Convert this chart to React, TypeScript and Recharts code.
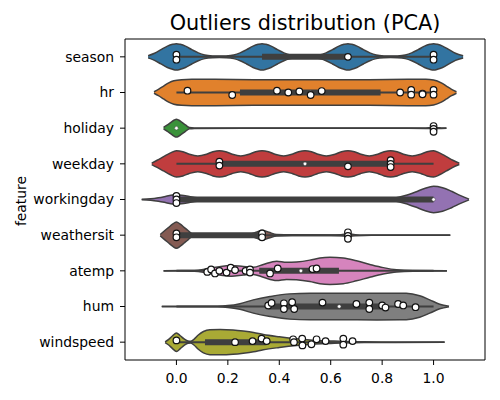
import {
  ComposedChart,
  Area,
  Line,
  Scatter,
  XAxis,
  YAxis,
  ReferenceArea,
} from "recharts";

const features = [
  "season",
  "hr",
  "holiday",
  "weekday",
  "workingday",
  "weathersit",
  "atemp",
  "hum",
  "windspeed",
];

const colors = [
  "#3274a1",
  "#e1812c",
  "#3a923a",
  "#c03d3e",
  "#9372b2",
  "#845b53",
  "#d684bd",
  "#7f7f7f",
  "#a9aa35",
];

const xTicks = [0, 0.2, 0.4, 0.6, 0.8, 1.0];

// violin outlines: [value, half width]
const seasonShape = [
  [-0.11, 0.03], [-0.085, 0.1], [-0.06, 0.2], [-0.035, 0.3], [-0.015, 0.35], [0, 0.37],
  [0.015, 0.35], [0.035, 0.3], [0.06, 0.2], [0.085, 0.11], [0.11, 0.05], [0.14, 0.025],
  [0.167, 0.02], [0.193, 0.025], [0.223, 0.05], [0.248, 0.11], [0.273, 0.2], [0.298, 0.3],
  [0.318, 0.35], [0.333, 0.37], [0.348, 0.35], [0.368, 0.3], [0.393, 0.2], [0.418, 0.11],
  [0.443, 0.05], [0.473, 0.025], [0.5, 0.02], [0.527, 0.025], [0.557, 0.05], [0.582, 0.11],
  [0.607, 0.2], [0.632, 0.3], [0.652, 0.35], [0.667, 0.37], [0.682, 0.35], [0.702, 0.3],
  [0.727, 0.2], [0.752, 0.11], [0.777, 0.05], [0.807, 0.025], [0.833, 0.02], [0.86, 0.025],
  [0.89, 0.05], [0.915, 0.11], [0.94, 0.2], [0.965, 0.3], [0.985, 0.35], [1.0, 0.37],
  [1.015, 0.35], [1.035, 0.3], [1.06, 0.2], [1.085, 0.1], [1.115, 0.03],
];
const hrShape = [
  [-0.087, 0.02], [-0.07, 0.09], [-0.05, 0.18], [-0.03, 0.27], [-0.01, 0.33], [0.02, 0.36],
  [0.06, 0.37], [0.15, 0.37], [0.3, 0.36], [0.45, 0.36], [0.6, 0.36], [0.75, 0.36],
  [0.9, 0.37], [0.97, 0.37], [1.0, 0.35], [1.03, 0.27], [1.05, 0.18], [1.07, 0.09],
  [1.089, 0.02],
];
const holidayShape = [
  [-0.05, 0.02], [-0.035, 0.09], [-0.02, 0.17], [-0.008, 0.23], [0, 0.25], [0.008, 0.23],
  [0.02, 0.17], [0.035, 0.09], [0.05, 0.02], [0.07, 0.006], [0.3, 0.004], [0.9, 0.004],
  [0.97, 0.008], [1.0, 0.012], [1.03, 0.008], [1.05, 0.004],
];
const weekdayShape = [
  [-0.096, 0.02], [-0.075, 0.1], [-0.05, 0.2], [-0.025, 0.3], [0, 0.37], [0.025, 0.34],
  [0.05, 0.27], [0.083, 0.22], [0.117, 0.27], [0.142, 0.34], [0.167, 0.37], [0.192, 0.34],
  [0.217, 0.27], [0.25, 0.22], [0.283, 0.27], [0.308, 0.34], [0.333, 0.37], [0.358, 0.34],
  [0.383, 0.27], [0.417, 0.22], [0.45, 0.27], [0.475, 0.34], [0.5, 0.37], [0.525, 0.34],
  [0.55, 0.27], [0.583, 0.22], [0.617, 0.27], [0.642, 0.34], [0.667, 0.37], [0.692, 0.34],
  [0.717, 0.27], [0.75, 0.22], [0.783, 0.27], [0.808, 0.34], [0.833, 0.37], [0.858, 0.34],
  [0.883, 0.27], [0.917, 0.22], [0.95, 0.27], [0.975, 0.34], [1.0, 0.37], [1.025, 0.3],
  [1.05, 0.2], [1.075, 0.1], [1.1, 0.02],
];
const workingdayShape = [
  [-0.135, 0.005], [-0.1, 0.02], [-0.07, 0.05], [-0.04, 0.09], [-0.015, 0.125], [0, 0.13],
  [0.02, 0.12], [0.05, 0.085], [0.08, 0.05], [0.11, 0.025], [0.15, 0.01], [0.3, 0.005],
  [0.6, 0.005], [0.8, 0.01], [0.85, 0.04], [0.89, 0.11], [0.93, 0.21], [0.965, 0.31],
  [1.0, 0.37], [1.035, 0.33], [1.07, 0.23], [1.105, 0.11], [1.138, 0.01],
];
const weathersitShape = [
  [-0.063, 0.02], [-0.045, 0.13], [-0.03, 0.22], [-0.015, 0.31], [0, 0.37], [0.015, 0.31],
  [0.03, 0.22], [0.045, 0.13], [0.063, 0.03], [0.09, 0.012], [0.2, 0.01], [0.28, 0.02],
  [0.31, 0.08], [0.333, 0.14], [0.36, 0.08], [0.39, 0.02], [0.45, 0.01], [0.6, 0.008],
  [0.64, 0.015], [0.667, 0.035], [0.695, 0.015], [0.73, 0.006], [1.065, 0.003],
];
const atempShape = [
  [-0.05, 0.004], [0.02, 0.006], [0.07, 0.012], [0.098, 0.03], [0.124, 0.07], [0.16, 0.11],
  [0.195, 0.14], [0.215, 0.15], [0.26, 0.12], [0.3, 0.1], [0.338, 0.18], [0.39, 0.27],
  [0.428, 0.24], [0.467, 0.25], [0.519, 0.3], [0.558, 0.36], [0.597, 0.38], [0.649, 0.36],
  [0.7, 0.28], [0.752, 0.18], [0.804, 0.09], [0.856, 0.03], [0.92, 0.01], [1.052, 0.004],
];
const humShape = [
  [-0.057, 0.004], [0.1, 0.005], [0.16, 0.008], [0.2, 0.025], [0.247, 0.08], [0.299, 0.186],
  [0.364, 0.28], [0.441, 0.354], [0.52, 0.37], [0.65, 0.372], [0.78, 0.375], [0.894, 0.37],
  [0.946, 0.3], [0.985, 0.186], [1.024, 0.065], [1.06, 0.004],
];
const windspeedShape = [
  [-0.044, 0.01], [-0.03, 0.08], [-0.015, 0.18], [0, 0.26], [0.015, 0.18], [0.03, 0.09],
  [0.045, 0.03], [0.055, 0.025], [0.068, 0.08], [0.085, 0.2], [0.105, 0.3], [0.13, 0.35],
  [0.17, 0.355], [0.22, 0.34], [0.26, 0.31], [0.3, 0.27], [0.338, 0.214], [0.4, 0.15],
  [0.467, 0.093], [0.53, 0.056], [0.6, 0.035], [0.66, 0.019], [0.73, 0.01], [0.85, 0.006],
  [1.043, 0.003],
];

// inner box
const whiskerLo = [0, 0, 0, 0, 0, 0, 0, 0, 0];
const whiskerHi = [1, 1, 0, 1, 1, 0.667, 1, 1, 0.685];
const q1 = [0.333, 0.247, 0, 0.167, 0, 0, 0.322, 0.355, 0.111];
const q3 = [0.667, 0.794, 0, 0.833, 1, 0.333, 0.632, 0.812, 0.35];
const medians = [0.667, 0.522, 0, 0.5, 1, 0, 0.484, 0.633, 0.228];

// swarm points: [value, offset from row centre]
const seasonPts = [[0, -0.06], [0, 0.08], [0.667, 0], [1, -0.06], [1, 0.08]];
const hrPts = [
  [0.043, -0.05], [0.217, 0.07], [0.391, -0.05], [0.435, 0], [0.478, -0.03], [0.522, 0.07],
  [0.565, -0.04], [0.87, 0], [0.913, -0.07], [0.913, 0.06], [0.957, 0.03], [0.957, 0.05],
  [1, -0.07], [1, 0.06],
];
const holidayPts = [[1, -0.06], [1, 0.02], [1, 0.1]];
const weekdayPts = [
  [0.167, -0.06], [0.167, 0.05], [0.667, 0.07], [0.833, -0.1], [0.833, 0], [0.833, 0.09],
];
const workingdayPts = [[0, -0.1], [0, 0], [0, 0.1]];
const weathersitPts = [
  [0, -0.05], [0, 0.06], [0.333, -0.05], [0.333, 0.06], [0.667, -0.08], [0.667, 0.02],
  [0.667, 0.1],
];
const atempPts = [
  [0.12, 0.03], [0.135, -0.04], [0.15, 0.074], [0.167, 0], [0.195, 0.05], [0.211, -0.09],
  [0.228, -0.02], [0.269, 0], [0.286, -0.04], [0.286, 0.05], [0.364, 0.074], [0.394, -0.065],
  [0.529, -0.05], [0.545, -0.065],
];
const humPts = [
  [0.357, -0.03], [0.37, -0.1], [0.418, -0.09], [0.418, 0.07], [0.45, -0.12], [0.458, 0.07],
  [0.568, -0.11], [0.7, -0.07], [0.75, -0.11], [0.75, 0.07], [0.8, -0.03], [0.813, 0.03],
  [0.862, -0.07], [0.882, -0.03], [0.93, 0.02],
];
const windspeedPts = [
  [0, -0.05], [0.228, 0], [0.296, -0.03], [0.331, -0.1], [0.351, -0.03], [0.454, -0.08],
  [0.457, 0], [0.489, -0.1], [0.49, 0.09], [0.525, 0.06], [0.545, -0.08], [0.58, -0.03],
  [0.649, -0.1], [0.649, 0.07], [0.685, -0.03],
];

const shapes = [
  seasonShape, hrShape, holidayShape, weekdayShape, workingdayShape,
  weathersitShape, atempShape, humShape, windspeedShape,
];
const points = [
  seasonPts, hrPts, holidayPts, weekdayPts, workingdayPts,
  weathersitPts, atempPts, humPts, windspeedPts,
];

const gray = "#3f3f3f";

const violins = shapes.map((s, i) =>
  s.map(([x, w]) => ({ x, range: [i - w, i + w] }))
);
const whiskers = features.map((_, i) => [
  { x: whiskerLo[i], y: i },
  { x: whiskerHi[i], y: i },
]);
const boxes = features.map((_, i) => [
  { x: q1[i], y: i },
  { x: q3[i], y: i },
]);
const medianPts = features.map((_, i) => ({ x: medians[i], y: i }));
const swarm = points.flatMap((pts, i) => pts.map(([x, dy]) => ({ x, y: i + dy })));

const MedianDot = (props: any) => (
  <circle cx={props.cx} cy={props.cy} r={1.8} fill="#fff" stroke={gray} strokeWidth={0.5} />
);
const SwarmDot = (props: any) => (
  <circle cx={props.cx} cy={props.cy} r={3.3} fill="#fff" stroke="#111" strokeWidth={1.2} />
);

export default function App() {
  return (
    <div
      style={{
        position: "absolute",
        left: 0,
        top: 0,
        width: 500,
        height: 400,
        background: "#fff",
        fontFamily: "DejaVu Sans",
      }}
    >
      <div
        style={{
          position: "absolute",
          left: 105,
          width: 400,
          top: 13,
          textAlign: "center",
          fontSize: 20.8,
          lineHeight: 1,
          color: "#000",
        }}
      >
        Outliers distribution (PCA)
      </div>
      <div
        style={{
          position: "absolute",
          left: 21.5,
          top: 201,
          transform: "translate(-50%, -50%) rotate(-90deg)",
          fontSize: 13.9,
          lineHeight: 1,
          whiteSpace: "nowrap",
          color: "#000",
        }}
      >
        feature
      </div>
      <ComposedChart
        width={500}
        height={400}
        margin={{ top: 39, right: 15, bottom: 10, left: 25 }}
      >
        <XAxis
          type="number"
          dataKey="x"
          domain={[-0.2, 1.2]}
          ticks={xTicks}
          tickFormatter={(v: number) => v.toFixed(1)}
          allowDataOverflow
          height={30}
          tickSize={5}
          tickMargin={8}
          axisLine={false}
          tickLine={{ stroke: "#000" }}
          tick={{ fill: "#000", fontSize: 13.9 }}
        />
        <YAxis
          type="number"
          dataKey="y"
          domain={[-0.5, 8.5]}
          reversed
          ticks={features.map((_, i) => i)}
          tickFormatter={(v: number) => features[v]}
          allowDataOverflow
          width={100}
          tickSize={5}
          tickMargin={6}
          axisLine={false}
          tickLine={{ stroke: "#000" }}
          tick={{ fill: "#000", fontSize: 13.9 }}
        />
        {violins.map((d, i) => (
          <Area
            key={"v" + i}
            data={d}
            dataKey="range"
            type="monotone"
            fill={colors[i]}
            fillOpacity={1}
            stroke={gray}
            strokeWidth={1.5}
            dot={false}
            activeDot={false}
            isAnimationActive={false}
          />
        ))}
        {whiskers.map((d, i) => (
          <Line
            key={"w" + i}
            data={d}
            dataKey="y"
            stroke={gray}
            strokeWidth={2}
            dot={false}
            activeDot={false}
            isAnimationActive={false}
          />
        ))}
        {boxes.map((d, i) => (
          <Line
            key={"b" + i}
            data={d}
            dataKey="y"
            stroke={gray}
            strokeWidth={6}
            dot={false}
            activeDot={false}
            isAnimationActive={false}
          />
        ))}
        <Scatter data={medianPts} shape={MedianDot} isAnimationActive={false} />
        <Scatter data={swarm} shape={SwarmDot} isAnimationActive={false} />
        <ReferenceArea
          x1={-0.2}
          x2={1.2}
          y1={-0.5}
          y2={8.5}
          fill="none"
          stroke="#000"
          strokeWidth={1}
        />
      </ComposedChart>
    </div>
  );
}
